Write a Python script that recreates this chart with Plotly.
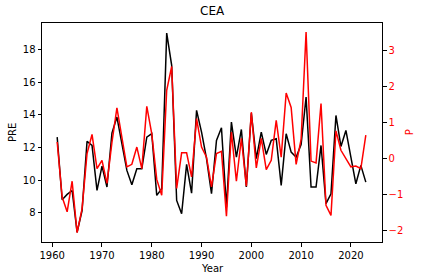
import plotly.graph_objects as go

years = list(range(1961, 2024))
pre = [12.63, 8.79, 9.12, 9.36, 6.80, 8.13, 12.37, 12.12, 9.36, 10.85,
       9.57, 12.88, 13.86, 12.22, 10.59, 9.71, 10.69, 10.69, 12.63, 12.84,
       9.06, 9.47, 19.01, 17.03, 8.75, 7.93, 10.96, 9.20, 14.27, 12.94,
       11.31, 9.16, 12.43, 13.21, 8.34, 13.55, 11.40, 13.10, 9.57, 14.10,
       11.31, 12.94, 11.57, 12.43, 12.53, 9.67, 12.84, 11.71, 11.40, 12.18,
       15.09, 9.57, 9.57, 12.12, 8.55, 9.16, 13.96, 12.06, 13.04, 11.40,
       9.77, 10.90, 9.87]
p = [0.46, -1.07, -1.48, -0.63, -2.06, -1.39, 0.14, 0.67, -0.28, -0.05,
     -0.69, 0.45, 1.41, 0.55, -0.23, -0.16, 0.32, -0.28, 1.45, 0.69,
     -0.58, -1.02, 1.90, 2.56, -0.83, 0.16, 0.16, -0.51, 1.11, 0.32,
     0.04, -0.79, 0.14, 0.20, -1.60, 0.74, -0.63, 0.56, -0.77, 1.29,
     -0.26, 0.56, -0.31, -0.05, 1.06, 0.04, 1.82, 1.42, -0.16, 0.53,
     3.52, -0.07, -0.12, 1.53, -1.30, -1.58, 0.77, 0.23, 0.00, -0.23,
     -0.21, -0.28, 0.65]

font = "DejaVu Sans"
fig = go.Figure()
fig.add_trace(go.Scatter(x=years, y=pre, mode="lines", line=dict(color="black", width=1.5),
                         name="PRE", yaxis="y"))
fig.add_trace(go.Scatter(x=years, y=p, mode="lines", line=dict(color="red", width=1.5),
                         name="P", yaxis="y2"))

common = dict(showgrid=False, zeroline=False, showline=True, linecolor="black", linewidth=1,
              ticks="outside", ticklen=3.5, tickcolor="black", automargin=False)

fig.update_layout(
    width=424, height=280,
    margin=dict(l=41.5, r=41.7, t=22.7, b=38.3, autoexpand=False),
    paper_bgcolor="white", plot_bgcolor="white",
    showlegend=False,
    font=dict(family=font, size=10, color="black"),
    xaxis=dict(range=[1957.95, 2026.25], tickvals=[1960, 1970, 1980, 1990, 2000, 2010, 2020],
               mirror=True, **common),
    yaxis=dict(range=[6.2, 19.63], tickvals=[8, 10, 12, 14, 16, 18], **common),
    yaxis2=dict(range=[-2.32, 3.77], tickvals=[-2, -1, 0, 1, 2, 3],
                ticktext=["\u22122", "\u22121", "0", "1", "2", "3"],
                overlaying="y", side="right",
                tickfont=dict(color="red", size=10), **common),
    annotations=[
        dict(text="CEA", x=0.5, y=1, xref="paper", yref="paper",
             xanchor="center", yanchor="bottom", yshift=3, showarrow=False,
             font=dict(size=12, family=font, color="black")),
        dict(text="PRE", x=0, y=0.5, xref="paper", yref="paper", textangle=-90,
             xanchor="center", yanchor="middle", xshift=-29.5, showarrow=False,
             font=dict(size=10, family=font, color="black")),
        dict(text="P", x=1, y=0.5, xref="paper", yref="paper", textangle=-90,
             xanchor="center", yanchor="middle", xshift=27.7, showarrow=False,
             font=dict(size=10, family=font, color="red")),
        dict(text="Year", x=0.5, y=0, xref="paper", yref="paper",
             xanchor="center", yanchor="middle", yshift=-26.5, showarrow=False,
             font=dict(size=10, family=font, color="black")),
    ],
)

fig.write_html("out.html", config={"displayModeBar": False},
               post_script="document.body.style.margin='0';document.body.style.overflow='hidden';")
